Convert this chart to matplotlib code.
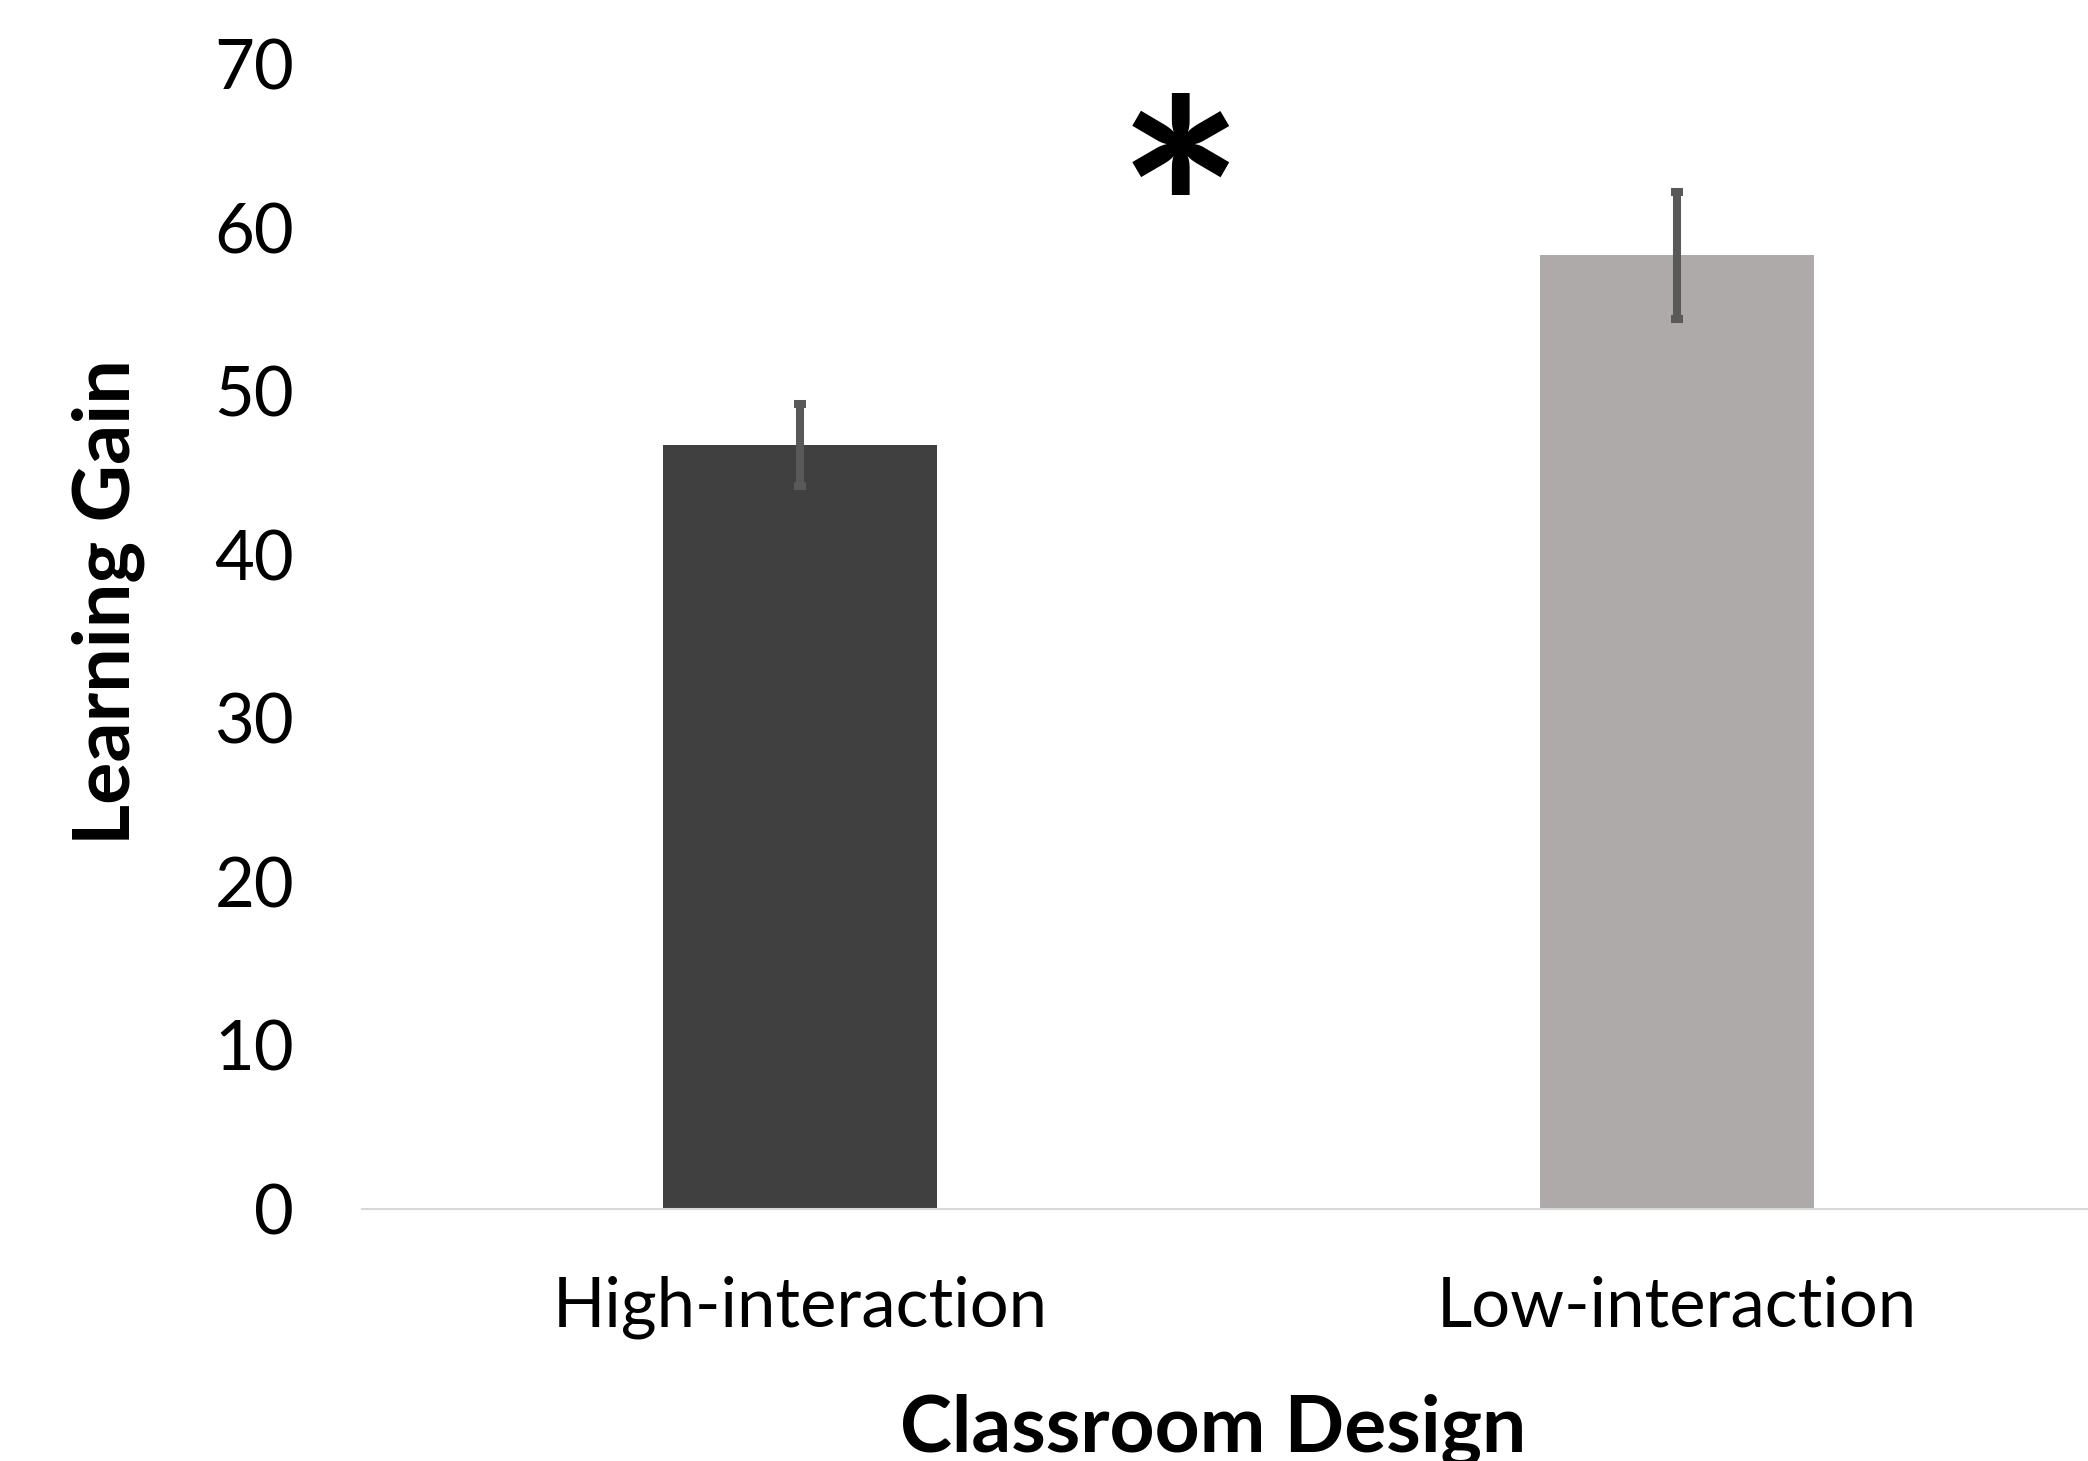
import matplotlib
matplotlib.use("Agg")
import matplotlib.pyplot as plt

# learning gain by classroom design, with standard error bars
categories = ["High-interaction", "Low-interaction"]
gain = [46.7, 58.3]
err = [2.5, 3.9]
bar_colors = ["#404040", "#AEAAAA"]
yticks = [0, 10, 20, 30, 40, 50, 60, 70]

plt.rcParams["font.family"] = ["Lato", "DejaVu Sans"]

fig = plt.figure(figsize=(20.88, 14.61), dpi=100)
ax = fig.add_axes([0.1734, 0.1725, 0.8395, 0.7837])

x = range(len(categories))
ax.bar(x, gain, width=0.3125, color=bar_colors, zorder=2)
ax.errorbar(x, gain, yerr=err, fmt="none", ecolor="#595959",
            elinewidth=5.8, capsize=4.3, capthick=5.8, zorder=3)

ax.set_xlim(-0.5, 1.5)
ax.set_ylim(0, 70)
ax.set_yticks(yticks)
ax.set_xticks(list(x))
ax.set_xticklabels(categories)

for side in ["top", "right", "left"]:
    ax.spines[side].set_visible(False)
ax.spines["bottom"].set_color("#D9D9D9")
ax.spines["bottom"].set_linewidth(1.5)
ax.tick_params(axis="both", length=0, labelsize=49.5)
ax.tick_params(axis="y", pad=49)
ax.tick_params(axis="x", pad=48)

# significance marker
ax.text(0.434, 59.6, "*", ha="center", va="center", fontsize=216,
        fontweight="bold", color="black")

fig.text(1213 / 2088, 0.0068, "Classroom Design", ha="center", va="baseline",
         fontsize=56.5, fontweight="bold")
fig.text(108 / 2088, 0.588, "Learning Gain", ha="center", va="center",
         rotation=90, fontsize=57, fontweight="bold")

fig.savefig("out.png", dpi=100)
